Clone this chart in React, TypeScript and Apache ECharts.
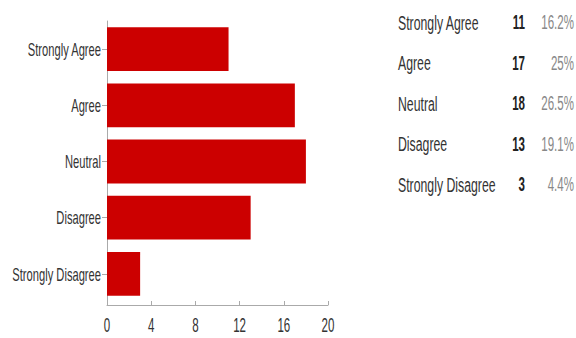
import React, { useEffect, useRef } from "react";
import * as echarts from "echarts";

const categories = ["Strongly Agree", "Agree", "Neutral", "Disagree", "Strongly Disagree"];
const counts = [11, 17, 18, 13, 3];
const percents = ["16.2%", "25%", "26.5%", "19.1%", "4.4%"];
const xTicks = [0, 4, 8, 12, 16, 20];

const FONT = "'Liberation Sans', Arial, sans-serif";

export default function App() {
  const ref = useRef<HTMLDivElement>(null);
  useEffect(() => {
    if (!ref.current) return;
    const chart = echarts.init(ref.current, null, { renderer: "svg" });
    chart.setOption({
      animation: false,
      grid: { left: 107, right: 248, top: 21, bottom: 36, containLabel: false },
      xAxis: {
        type: "value",
        min: xTicks[0],
        max: xTicks[xTicks.length - 1],
        interval: xTicks[1] - xTicks[0],
        offset: 3,
        axisLine: { show: true, lineStyle: { color: "#aaa", width: 1 } },
        axisTick: { show: true, inside: true, length: 4, lineStyle: { color: "#aaa" } },
        splitLine: { show: false },
        axisLabel: { show: false },
      },
      yAxis: {
        type: "category",
        data: categories,
        inverse: true,
        axisLine: { show: true, lineStyle: { color: "#aaa", width: 1 } },
        axisTick: { show: true, alignWithLabel: true, length: 5, lineStyle: { color: "#aaa" } },
        axisLabel: { show: false },
      },
      series: [
        {
          type: "bar",
          data: counts,
          barCategoryGap: "22%",
          itemStyle: { color: "#cc0000" },
        },
      ],
    });

    const graphics: any[] = [];
    const axisX = chart.convertToPixel({ xAxisIndex: 0 }, 0) as number;
    categories.forEach((c) => {
      const py = chart.convertToPixel({ yAxisIndex: 0 }, c) as number;
      graphics.push({
        type: "text",
        x: axisX - 6,
        y: py,
        scaleX: 0.62,
        style: { text: c, font: `18px ${FONT}`, fill: "#333", align: "right", verticalAlign: "middle" },
      });
    });
    xTicks.forEach((v) => {
      const px = chart.convertToPixel({ xAxisIndex: 0 }, v) as number;
      graphics.push({
        type: "text",
        x: px,
        y: 325,
        scaleX: 0.55,
        style: { text: String(v), font: `21px ${FONT}`, fill: "#333", align: "center", verticalAlign: "middle" },
      });
    });
    categories.forEach((c, i) => {
      const y = 22.5 + i * 40.5;
      graphics.push({
        type: "text",
        x: 398,
        y,
        scaleX: 0.585,
        style: { text: c, font: `21px ${FONT}`, fill: "#333", align: "left", verticalAlign: "middle" },
      });
      graphics.push({
        type: "text",
        x: 525,
        y,
        scaleX: 0.55,
        style: { text: String(counts[i]), font: `bold 21px ${FONT}`, fill: "#222", align: "right", verticalAlign: "middle" },
      });
      graphics.push({
        type: "text",
        x: 574,
        y,
        scaleX: 0.55,
        style: { text: percents[i], font: `21px ${FONT}`, fill: "#888", align: "right", verticalAlign: "middle" },
      });
    });
    chart.setOption({ graphic: graphics });
    return () => chart.dispose();
  }, []);
  return <div ref={ref} style={{ position: "fixed", left: 0, top: 0, width: 576, height: 338, background: "#fff" }} />;
}
